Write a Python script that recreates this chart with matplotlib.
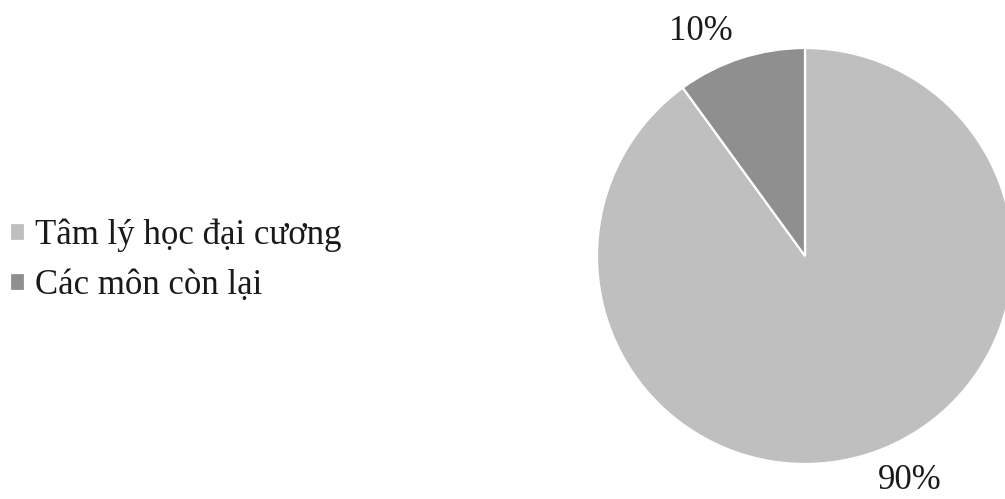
import numpy as np
import matplotlib
matplotlib.use("Agg")
import matplotlib.pyplot as plt

plt.rcParams['font.family'] = ['Liberation Serif', 'DejaVu Serif']

categories = ["Tâm lý học đại cương", "Các môn còn lại"]
values = [90, 10]
colors = ["#bfbfbf", "#8f8f8f"]

W, H = 1005, 499
fig = plt.figure(figsize=(W / 100, H / 100), dpi=100)
ax = fig.add_axes([0, 0, 1, 1])

cx, cy, r = 805, H - 256, 208
wedges, _ = ax.pie(values, colors=colors, startangle=90, counterclock=False,
                   center=(cx, cy), radius=r, frame=True,
                   wedgeprops=dict(edgecolor="white", linewidth=1.6))
ax.set_xlim(0, W)
ax.set_ylim(0, H)
ax.set_aspect("equal")
ax.axis("off")

# percentage labels just outside each slice
total = sum(values)
for w, v in zip(wedges, values):
    ang = np.deg2rad((w.theta1 + w.theta2) / 2 + 7)
    d = r * 1.19
    ax.text(cx + d * np.cos(ang), cy + d * np.sin(ang), f"{v / total * 100:.0f}%",
            ha="center", va="center", fontsize=25, color="#1a1a1a")

ax.legend(wedges, categories, loc="center left", bbox_to_anchor=(0.0, 0.478),
          bbox_transform=fig.transFigure, frameon=False, fontsize=25,
          handlelength=0.43, handleheight=0.43, handletextpad=0.29,
          labelspacing=0.48, borderaxespad=0, borderpad=0.3,
          labelcolor="#1a1a1a")

fig.savefig("out.png", dpi=100)
